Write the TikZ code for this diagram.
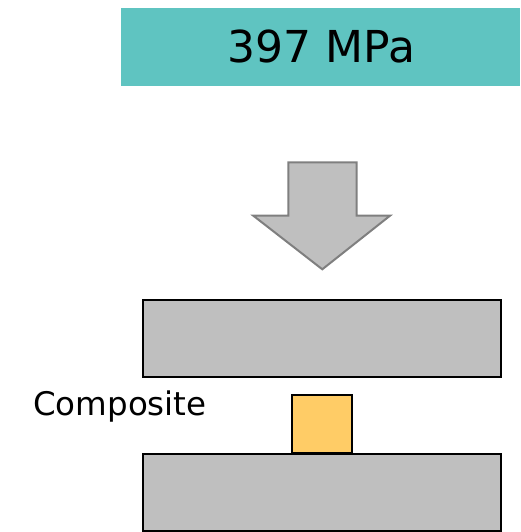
\documentclass[tikz,border=0pt]{standalone}
\usepackage{fontspec}
\setmainfont{DejaVu Sans}
\definecolor{teal1}{HTML}{5FC4C1}
\definecolor{plategray}{HTML}{BFBFBF}
\definecolor{arrowedge}{HTML}{7F7F7F}
\definecolor{compo}{HTML}{FFCC66}
\begin{document}
\begin{tikzpicture}[x=1pt,y=-1pt,
  plate/.style={draw=black, line width=2pt, fill=plategray, inner sep=0pt, minimum width=357.4pt, minimum height=77.3pt},
  compbox/.style={draw=black, line width=2pt, fill=compo, inner sep=0pt, minimum width=59.4pt, minimum height=58.3pt},
  label/.style={inner sep=0pt, font=\fontsize{44}{50}\selectfont}
]
\useasboundingbox (0,0) rectangle (520,532);
\node[fill=teal1, inner sep=0pt, minimum width=399pt, minimum height=78pt] (stress) at (320.5,47) {};
\node[label, anchor=base] (stresstext) at (321.5,63) {397 MPa};
\draw[draw=arrowedge, fill=plategray, line width=2pt, line join=miter]
  (288.3,162.3) -- (356.7,162.3) -- (356.7,215.7) -- (390,215.7) -- (322.3,269.3)
  -- (253.3,215.7) -- (288.3,215.7) -- cycle;
\node[plate] (top) at (322,338.7) {};
\node[plate] (bottom) at (322,492.2) {};
\node[compbox, anchor=south] (sample) at (322,454.3) {};
\node[inner sep=0pt, anchor=base west, font=\fontsize{32.5}{38}\selectfont] (complabel) at (33,415) {Composite};
\end{tikzpicture}
\end{document}
